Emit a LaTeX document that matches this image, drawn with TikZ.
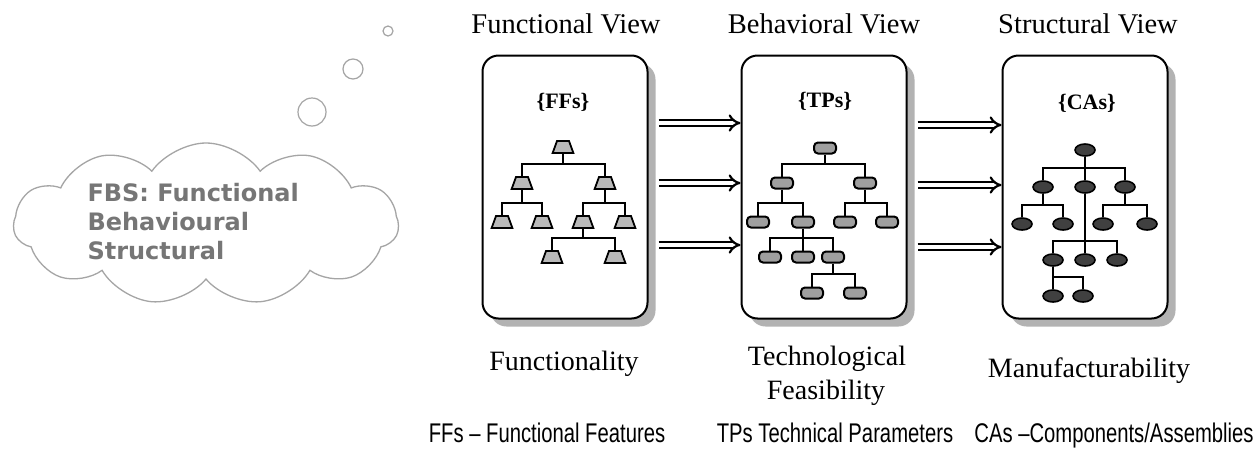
\documentclass[tikz,border=0pt]{standalone}
\usepackage{fontspec}
\setmainfont{Liberation Serif}
\newfontfamily\cloudfont{DejaVu Sans}
\newfontfamily\notefont[FakeStretch=0.75]{Liberation Sans}
\usetikzlibrary{shapes.geometric,shapes.symbols,shadows,arrows.meta,calc}
\definecolor{cloudgray}{RGB}{118,118,118}
\definecolor{puffgray}{RGB}{165,165,165}
\tikzset{
  viewbox/.style={draw, line width=2pt, rounded corners=16pt, fill=white,
    minimum width=165pt, minimum height=263pt,
    drop shadow={shadow xshift=8pt, shadow yshift=-8pt, fill=black!60}},
  viewtitle/.style={anchor=base, font=\fontsize{28.5}{32}\selectfont},
  setlabel/.style={font=\fontsize{22}{26}\selectfont\bfseries},
  viewlabel/.style={anchor=base, font=\fontsize{28}{34}\selectfont},
  footnote/.style={anchor=base, font=\notefont\fontsize{27}{30}\selectfont},
  ffnode/.style={trapezium, trapezium angle=70, draw, line width=1.8pt, fill=gray!55,
    minimum width=20pt, minimum height=12pt, inner sep=1.5pt},
  tpnode/.style={rectangle, rounded corners=4pt, draw, line width=2pt, fill=gray!75,
    minimum width=22pt, minimum height=11pt, inner sep=0pt},
  canode/.style={ellipse, draw, line width=1.6pt, fill=black!75,
    minimum width=20pt, minimum height=12pt, inner sep=0pt},
  branch/.style={line width=1.9pt,
    to path={(\tikztostart) |- ($(\tikztotarget)+(0,-19)$) -| (\tikztotarget)}},
  viewarrow/.style={double=white, double distance=3.5pt, line width=2.2pt, -{Implies}},
  puff/.style={circle, draw=puffgray, line width=1.2pt, inner sep=0pt}
}
\begin{document}
\begin{tikzpicture}[x=1pt,y=-1pt]
  \path[use as bounding box, fill=white] (0,0) rectangle (1253,453);

  \node (fbscloud) [cloud, cloud puffs=11, cloud puff arc=110, aspect=2.4, draw=puffgray,
    line width=1.3pt, minimum width=385pt, minimum height=162pt] at (206,224) {};
  \node (fbstext) [anchor=west, align=left, text=cloudgray,
    font=\cloudfont\bfseries\fontsize{24}{29}\selectfont] at (84,222)
    {FBS: Functional\\Behavioural\\Structural};
  \node (puffa) [puff, minimum size=28pt] at (312,112) {};
  \node (puffb) [puff, minimum size=20pt] at (353,69) {};
  \node (puffc) [puff, minimum size=10pt] at (388,31) {};

  \node (box1) [viewbox] at (565,187) {};
  \node (box2) [viewbox] at (824,187) {};
  \node (box3) [viewbox] at (1085,187) {};

  \node (fvtitle) [viewtitle] at (566,33) {Functional View};
  \node (bvtitle) [viewtitle] at (824,33) {Behavioral View};
  \node (svtitle) [viewtitle] at (1088,33) {Structural View};

  \node (ffset) [setlabel] at (563,102) {\{FFs\}};
  \node (tpset) [setlabel] at (825,101) {\{TPs\}};
  \node (caset) [setlabel] at (1087,103) {\{CAs\}};

  \draw[viewarrow] (box1.east |- 0,123) ++(10,0) -- (box2.west |- 0,123);
  \draw[viewarrow] (box1.east |- 0,183) ++(10,0) -- (box2.west |- 0,183);
  \draw[viewarrow] (box1.east |- 0,245) ++(10,0) -- (box2.west |- 0,245);
  \draw[viewarrow] (box2.east |- 0,125) ++(10,0) -- (box3.west |- 0,125);
  \draw[viewarrow] (box2.east |- 0,185) ++(10,0) -- (box3.west |- 0,185);
  \draw[viewarrow] (box2.east |- 0,247) ++(10,0) -- (box3.west |- 0,247);

  \node (f0) [ffnode] at (563,147) {};
  \node (f1) [ffnode] at (522,183) {};
  \node (f2) [ffnode] at (605,183) {};
  \node (f3) [ffnode] at (502,222) {};
  \node (f4) [ffnode] at (542,222) {};
  \node (f5) [ffnode] at (583,222) {};
  \node (f6) [ffnode] at (625,222) {};
  \node (f7) [ffnode] at (552,257) {};
  \node (f8) [ffnode] at (615,257) {};
  \draw[branch] (f0) to (f1) (f0) to (f2);
  \draw[branch] (f1) to (f3) (f1) to (f4);
  \draw[branch] (f2) to (f5) (f2) to (f6);
  \draw[branch] (f5) to (f7) (f5) to (f8);

  \node (t0) [tpnode] at (825,148) {};
  \node (t1) [tpnode] at (782,183) {};
  \node (t2) [tpnode] at (865,183) {};
  \node (t3) [tpnode] at (758,222) {};
  \node (t4) [tpnode] at (803,222) {};
  \node (t5) [tpnode] at (845,222) {};
  \node (t6) [tpnode] at (887,222) {};
  \node (t7) [tpnode] at (770,257) {};
  \node (t8) [tpnode] at (803,257) {};
  \node (t9) [tpnode] at (833,257) {};
  \node (t10) [tpnode] at (812,293) {};
  \node (t11) [tpnode] at (855,293) {};
  \draw[branch] (t0) to (t1) (t0) to (t2);
  \draw[branch] (t1) to (t3) (t1) to (t4);
  \draw[branch] (t2) to (t5) (t2) to (t6);
  \draw[branch] (t4) to (t7) (t4) to (t8) (t4) to (t9);
  \draw[branch] (t9) to (t10) (t9) to (t11);

  \node (c0) [canode] at (1085,150) {};
  \node (c1) [canode] at (1043,187) {};
  \node (c2) [canode] at (1085,187) {};
  \node (c3) [canode] at (1125,187) {};
  \node (c4) [canode] at (1022,224) {};
  \node (c5) [canode] at (1063,224) {};
  \node (c6) [canode] at (1103,224) {};
  \node (c7) [canode] at (1147,224) {};
  \node (c8) [canode] at (1053,260) {};
  \node (c9) [canode] at (1085,260) {};
  \node (c10) [canode] at (1117,260) {};
  \node (c11) [canode] at (1053,296) {};
  \node (c12) [canode] at (1083,296) {};
  \draw[branch] (c0) to (c1) (c0) to (c2) (c0) to (c3);
  \draw[branch] (c1) to (c4) (c1) to (c5);
  \draw[branch] (c3) to (c6) (c3) to (c7);
  \draw[branch] (c2) to (c8) (c2) to (c9) (c2) to (c10);
  \draw[branch] (c8) to (c11) (c8) to (c12);

  \node (fnlabel) [viewlabel] at (564,370) {Functionality};
  \node (tclabel) [viewlabel] at (827,365) {Technological};
  \node (fslabel) [viewlabel] at (826,399) {Feasibility};
  \node (mflabel) [viewlabel] at (1089,377) {Manufacturability};

  \node (ffnote) [footnote] at (547,442) {FFs – Functional Features};
  \node (tpnote) [footnote] at (835,442) {TPs Technical Parameters};
  \node (canote) [footnote] at (1114,442) {CAs –Components/Assemblies};
\end{tikzpicture}
\end{document}
